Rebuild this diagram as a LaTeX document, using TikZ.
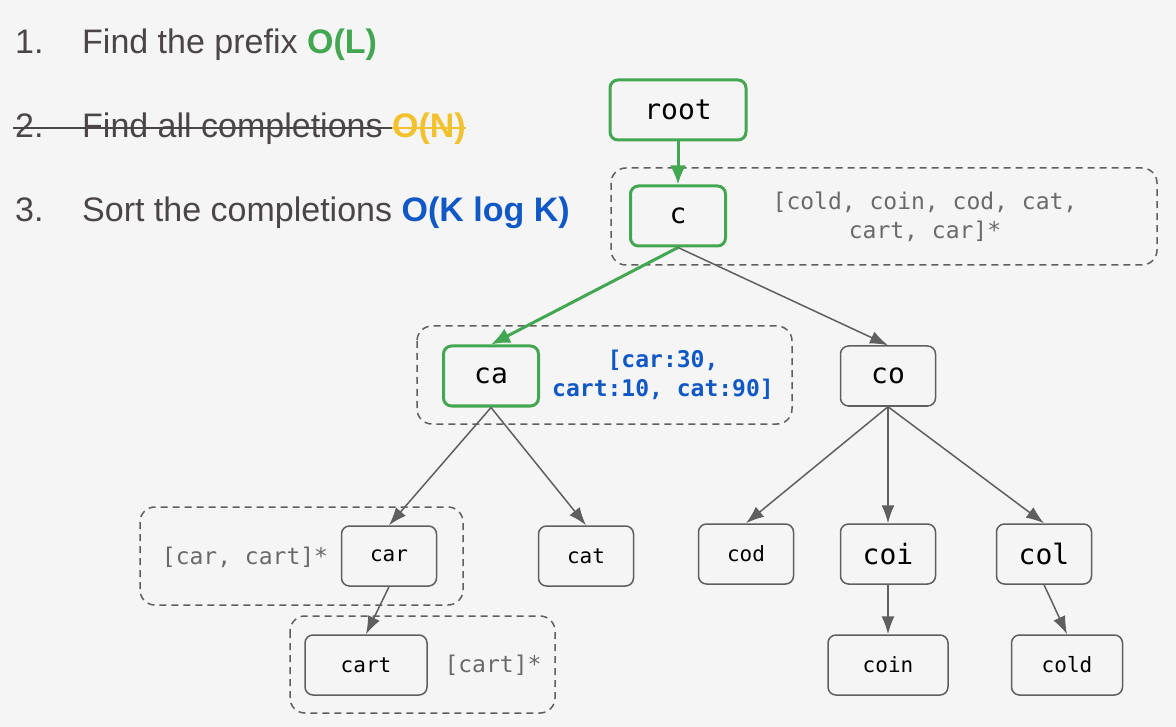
\documentclass[tikz,border=0pt]{standalone}
\usepackage{fontspec}
\setmainfont{Liberation Sans}
\newfontfamily\trimono{DejaVu Sans Mono}
\usetikzlibrary{arrows.meta}
\definecolor{bggray}{HTML}{F5F5F5}
\definecolor{textgray}{HTML}{4A4546}
\definecolor{notegray}{HTML}{6A6A6A}
\definecolor{linegray}{HTML}{5F5F5F}
\definecolor{cgreen}{HTML}{43A651}
\definecolor{cblue}{HTML}{1158C7}
\definecolor{cyellow}{HTML}{F2C12E}
\tikzset{
  steptext/.style={anchor=base west,inner sep=0pt,text=textgray,font=\fontsize{34}{40}\selectfont},
  trie/.style={draw=linegray,line width=1.5pt,rounded corners=8pt,fill=bggray,minimum width=95pt,minimum height=60pt,text=black,font=\trimono\fontsize{28}{28}\selectfont},
  onpath/.style={trie,draw=cgreen,line width=3pt},
  leaf/.style={trie,font=\trimono\fontsize{21}{21}\selectfont},
  note/.style={text=notegray,align=center,font=\trimono\fontsize{23}{29}\selectfont},
  link/.style={linegray,line width=1.5pt,-{Latex[length=18pt,width=13pt]}},
  pathlink/.style={cgreen,line width=3pt,-{Latex[length=19pt,width=16pt]}},
  groupbox/.style={draw=linegray,line width=1.5pt,dash pattern=on 7pt off 5pt,rounded corners=15pt}
}
\begin{document}
\begin{tikzpicture}[x=1pt,y=-1pt]
\fill[bggray](0,0)rectangle(1176,727);
\useasboundingbox(0,0)rectangle(1176,727);
%steps
\node[steptext](n1) at (15,54){1.};
\node[steptext](s1) at (82,54){Find the prefix \textcolor{cgreen}{\bfseries O(L)}};
\node[steptext](n2) at (15,138){2.};
\node[steptext](s2) at (82,138){Find all completions};
\node[steptext,text=cyellow,font=\fontsize{34}{40}\selectfont\bfseries](o2) at ([xshift=9pt]s2.base east){O(N)};
\draw[textgray,line width=2pt]([xshift=-2pt,yshift=10pt]n2.base west)--([yshift=10pt]o2.base west);
\draw[cyellow,line width=2pt]([yshift=10pt]o2.base west)--([yshift=10pt]o2.base east);
\node[steptext](n3) at (15,222){3.};
\node[steptext](s3) at (82,222){Sort the completions \textcolor{cblue}{\bfseries O(K log K)}};
%groups
\draw[groupbox](611,168)rectangle(1157,265);
\draw[groupbox](417,326)rectangle(792,424);
\draw[groupbox](140,507)rectangle(463,605);
\draw[groupbox](290,616)rectangle(555,713);
%trie
\node[onpath,minimum width=136pt](root) at (678,110){root};
\node[onpath](c) at (678,216){c};
\node[onpath](ca) at (491,376){ca};
\node[trie](co) at (888,376){co};
\node[leaf](car) at (389,556){car};
\node[leaf](cat) at (586,556){cat};
\node[leaf](cod) at (746,554){cod};
\node[trie](coi) at (888,554){coi};
\node[trie](col) at (1044,554){col};
\node[leaf,minimum width=122pt](cart) at (366,665){cart};
\node[leaf,minimum width=120pt](coin) at (888,665){coin};
\node[leaf,minimum width=111pt](cold) at (1067,665){cold};
%completions
\node[note](lblc) at (925,217){[cold, coin, cod, cat,\\cart, car]*};
\node[note,text=cblue,font=\trimono\fontsize{23}{29}\selectfont\bfseries](lblca) at (663,375){[car:30,\\cart:10, cat:90]};
\node[note](lblcar) at (245,557){[car, cart]*};
\node[note](lblcart) at (493,665){[cart]*};
%edges
\draw[pathlink](root)--(c);
\draw[pathlink](c.south)--(ca.north);
\draw[link](c.south)--(co.north);
\draw[link](ca.south)--(car.north);
\draw[link](ca.south)--(cat.north);
\draw[link](co.south)--(cod.north);
\draw[link](co.south)--(coi.north);
\draw[link](co.south)--(col.north);
\draw[link](car.south)--(cart.north);
\draw[link](coi.south)--(coin.north);
\draw[link](col.south)--(cold.north);
\end{tikzpicture}
\end{document}
